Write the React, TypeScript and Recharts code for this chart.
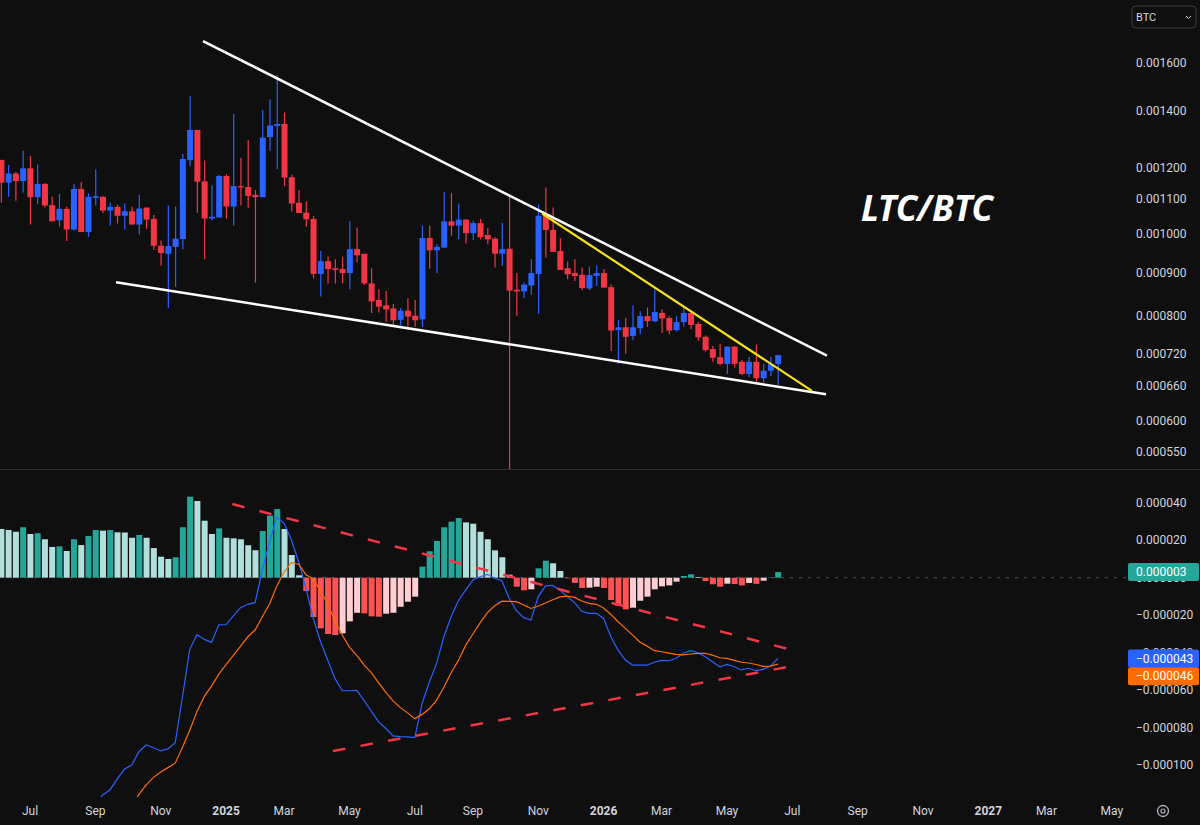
import React from 'react';
import { ComposedChart, Bar, Line, XAxis, YAxis, ReferenceLine, Cell } from 'recharts';

// weekly LTC/BTC candles, first bar = week of 2024-06-03, x = week index
const opens = [
  0.001226, 0.001152, 0.001181, 0.001157, 0.001198, 0.001107, 0.001148, 0.001083, 0.001039, 0.001072,
  0.001013, 0.001132, 0.001006, 0.001105, 0.001108, 0.001067, 0.001078, 0.001052, 0.001065, 0.001027,
  0.001076, 0.001043, 0.000969, 0.000948, 0.000966, 0.000987, 0.001225, 0.001331, 0.001156, 0.001044,
  0.001047, 0.001173, 0.001079, 0.001141, 0.001138, 0.001114, 0.001107, 0.001305, 0.001346, 0.001353,
  0.001169, 0.00109, 0.001061, 0.001043, 0.000897, 0.000929, 0.000911, 0.000909, 0.000899, 0.00096,
  0.000948, 0.000874, 0.000835, 0.000823, 0.000816, 0.000791, 0.000811, 0.0008, 0.000792, 0.00099,
  0.000957, 0.000964, 0.001036, 0.001024, 0.001041, 0.001003, 0.001031, 0.000998, 0.000988, 0.000948,
  0.000961, 0.000859, 0.000855, 0.000869, 0.000897, 0.001052, 0.001012, 0.000955, 0.000911, 0.000899,
  0.000895, 0.000862, 0.000892, 0.000899, 0.000865, 0.000769, 0.000775, 0.000757, 0.000773, 0.000799,
  0.000788, 0.000806, 0.000795, 0.000769, 0.000786, 0.000806, 0.000782, 0.000755, 0.00073, 0.000714,
  0.000701, 0.000735, 0.000705, 0.000682, 0.000705, 0.000674, 0.000688, 0.000701,
];
const highs = [
  0.001226, 0.001209, 0.001186, 0.001257, 0.001239, 0.001211, 0.00115, 0.001108, 0.001117, 0.001078,
  0.001148, 0.001154, 0.001119, 0.001195, 0.00111, 0.001091, 0.001084, 0.001088, 0.001078, 0.001114,
  0.001076, 0.001054, 0.000983, 0.001082, 0.001079, 0.001246, 0.00146, 0.001331, 0.001224, 0.001143,
  0.001176, 0.001179, 0.00139, 0.001233, 0.001295, 0.001129, 0.001406, 0.001448, 0.001546, 0.001396,
  0.001177, 0.001129, 0.001095, 0.001052, 0.000955, 0.000941, 0.000934, 0.000939, 0.001036, 0.001019,
  0.000948, 0.000911, 0.00086, 0.000856, 0.000826, 0.000817, 0.000839, 0.000835, 0.001024, 0.001024,
  0.000973, 0.001122, 0.001119, 0.001088, 0.001041, 0.001038, 0.001043, 0.001017, 0.000992, 0.001031,
  0.001111, 0.000899, 0.000876, 0.000934, 0.001084, 0.001137, 0.001076, 0.000989, 0.000928, 0.000934,
  0.000913, 0.000915, 0.000918, 0.000909, 0.000872, 0.000791, 0.000795, 0.000823, 0.00081, 0.000818,
  0.00086, 0.000814, 0.000799, 0.000799, 0.000822, 0.000806, 0.000787, 0.000758, 0.000736, 0.000741,
  0.000735, 0.000735, 0.000709, 0.000715, 0.000739, 0.000701, 0.000715, 0.000719,
];
const lows = [
  0.00109, 0.001108, 0.001096, 0.001121, 0.001027, 0.001086, 0.001076, 0.001036, 0.001021, 0.000982,
  0.00101, 0.001006, 0.000993, 0.001082, 0.00106, 0.001024, 0.00103, 0.001013, 0.001027, 0.000999,
  0.001015, 0.000958, 0.000918, 0.000817, 0.000866, 0.00096, 0.001206, 0.001061, 0.000934, 0.001039,
  0.001047, 0.001044, 0.001024, 0.001082, 0.001075, 0.000876, 0.001107, 0.001257, 0.001195, 0.001141,
  0.001064, 0.00106, 0.001021, 0.000886, 0.000843, 0.000874, 0.000874, 0.000874, 0.00086, 0.000927,
  0.00087, 0.000806, 0.000807, 0.000787, 0.000776, 0.000778, 0.000776, 0.000776, 0.000776, 0.00091,
  0.000899, 0.000964, 0.000996, 0.000986, 0.000975, 0.000984, 0.000986, 0.000973, 0.000913, 0.000917,
  0.00048, 0.0008, 0.00084, 0.000847, 0.000804, 0.000938, 0.000953, 0.000907, 0.000884, 0.00088,
  0.000858, 0.000858, 0.000868, 0.000864, 0.000726, 0.000701, 0.000721, 0.000748, 0.000761, 0.000776,
  0.000786, 0.000763, 0.000761, 0.000766, 0.000776, 0.000771, 0.000747, 0.000725, 0.000705, 0.000698,
  0.000682, 0.000694, 0.00068, 0.000676, 0.000668, 0.000666, 0.000678, 0.000662,
];
const closes = [
  0.001152, 0.001181, 0.001157, 0.001198, 0.001107, 0.001148, 0.001082, 0.001036, 0.001072, 0.001013,
  0.001132, 0.001006, 0.001108, 0.00111, 0.001067, 0.001078, 0.001052, 0.001065, 0.001027, 0.001073,
  0.001041, 0.000969, 0.00095, 0.000968, 0.000988, 0.001229, 0.001331, 0.001155, 0.001044, 0.001049,
  0.001173, 0.001079, 0.001141, 0.001137, 0.001111, 0.001107, 0.001303, 0.001347, 0.001353, 0.001168,
  0.001088, 0.00106, 0.001042, 0.000897, 0.000929, 0.000909, 0.000907, 0.000899, 0.00096, 0.000944,
  0.000874, 0.000832, 0.00082, 0.000814, 0.00079, 0.000811, 0.000798, 0.00079, 0.00099, 0.000957,
  0.000966, 0.001036, 0.001024, 0.001041, 0.001003, 0.001031, 0.000992, 0.000986, 0.000948, 0.00096,
  0.000857, 0.000855, 0.000871, 0.000899, 0.001052, 0.001012, 0.000953, 0.000907, 0.000896, 0.000892,
  0.000863, 0.000894, 0.000899, 0.000864, 0.000768, 0.000775, 0.000755, 0.000775, 0.000799, 0.000788,
  0.000808, 0.000794, 0.000768, 0.000786, 0.000806, 0.00078, 0.000754, 0.000728, 0.000713, 0.000701,
  0.000735, 0.000701, 0.000682, 0.000705, 0.000674, 0.000688, 0.000701, 0.000718,
];

// MACD pane, values in units of 1e-6
const histogram = [
  26.0, 25.4, 24.5, 26.9, 23.3, 23.7, 20.5, 16.4, 16.7, 14.2,
  20.5, 17.4, 22.2, 25.4, 25.1, 25.4, 24.2, 24.1, 21.3, 22.8,
  21.3, 15.8, 11.2, 10.0, 10.9, 26.9, 43.2, 40.9, 30.4, 23.3,
  26.3, 21.3, 21.0, 20.5, 17.3, 14.6, 24.9, 33.1, 36.6, 26.0,
  12.1, 1.3, -7.1, -21.0, -27.0, -30.0, -30.6, -29.7, -23.3, -18.7,
  -19.0, -20.6, -20.8, -19.2, -18.7, -15.5, -12.8, -10.1, 5.9, 14.1,
  19.6, 26.9, 29.9, 31.8, 29.5, 28.8, 24.5, 20.5, 14.6, 10.9,
  1.6, -4.8, -6.7, -6.2, 5.0, 9.1, 7.7, 3.6, -0.3, -2.8,
  -5.5, -5.3, -4.8, -5.5, -11.9, -15.1, -16.9, -16.0, -12.3, -10.1,
  -6.2, -4.6, -4.1, -2.1, 0.9, 1.8, 0.4, -1.8, -3.5, -4.8,
  -3.2, -3.4, -4.1, -2.8, -3.3, -1.6, 0.2, 3.0,
];
const macdLine = [
  -174, -170.6, -167.5, -161.1, -160.7, -156.3, -155.5, -155.6, -151.3, -149.8,
  -139.5, -138.1, -128.8, -120.6, -115.9, -113.2, -107.4, -102.2, -99.9, -92.8,
  -89.2, -90.7, -92.4, -91.3, -88.0, -63.5, -38.2, -30.4, -32.9, -34.5,
  -25.1, -25.1, -20.4, -16.0, -14.2, -13.3, 4.1, 19.2, 32.2, 29.0,
  20.1, 8.5, -5.5, -21.5, -34.0, -43.9, -53.7, -60.3, -60.3, -60.1,
  -65.5, -71.2, -76.8, -80.4, -84.4, -84.8, -84.9, -85.3, -67.0, -55.8,
  -45.7, -31.5, -20.8, -12.3, -6.6, -1.2, 0.5, 1.8, -0.3, -1.6,
  -11.0, -17.6, -21.3, -22.6, -10.1, -4.4, -4.1, -6.6, -10.1, -13.3,
  -17.9, -19.0, -19.0, -21.7, -31.5, -38.6, -43.9, -46.6, -46.6, -46.6,
  -45.1, -44.1, -44.3, -43.0, -40.3, -38.9, -40.0, -42.1, -44.8, -47.5,
  -46.2, -47.5, -49.2, -48.3, -49.6, -48.9, -47.0, -43.1,
];
const signalLine = [
  -200, -196, -192, -188, -184, -180, -176, -172, -168, -164,
  -160, -155.5, -151, -146, -141, -138.6, -131.6, -126.3, -121.2, -115.6,
  -110.5, -106.5, -103.6, -101.3, -98.9, -90.4, -81.4, -71.3, -63.3, -57.8,
  -51.4, -46.4, -41.4, -36.5, -31.5, -27.9, -20.8, -13.9, -4.4, 3.0,
  8.0, 7.2, 1.6, -0.5, -7.0, -13.9, -23.1, -30.6, -37.0, -41.4,
  -46.5, -50.6, -56.0, -61.2, -65.7, -69.3, -72.1, -75.2, -72.9, -69.9,
  -65.3, -58.4, -50.7, -44.1, -36.1, -30.0, -24.0, -18.7, -14.9, -12.5,
  -12.6, -12.8, -14.6, -16.4, -15.1, -13.5, -11.8, -10.2, -9.8, -10.5,
  -12.4, -13.7, -14.2, -16.2, -19.6, -23.5, -27.0, -30.6, -34.3, -36.5,
  -38.9, -39.5, -40.2, -40.9, -41.2, -40.7, -40.4, -40.3, -41.3, -42.7,
  -43.0, -44.1, -45.1, -45.5, -46.3, -47.3, -47.2, -46.1,
];

// month labels and the week index where each label sits
const monthLabels = ['Jul', 'Sep', 'Nov', '2025', 'Mar', 'May', 'Jul', 'Sep', 'Nov', '2026', 'Mar', 'May', 'Jul', 'Sep', 'Nov', '2027', 'Mar', 'May'];
const monthWeeks = [4, 13, 22, 31, 39, 48, 57, 65, 74, 83, 91, 100, 109, 118, 127, 136, 144, 153];

const priceTicks = [0.00055, 0.0006, 0.00066, 0.00072, 0.0008, 0.0009, 0.001, 0.0011, 0.0012, 0.0014, 0.0016];
const macdTicks = [40, 20, 0, -20, -40, -60, -80, -100];

// drawn trend lines: [week, price] pairs
const upperWedge = [[27.82, 0.001698], [113.77, 0.000717]];
const lowerWedge = [[15.84, 0.000877], [113.64, 0.000645]];
const yellowLine = [[74.52, 0.0010586], [111.71, 0.000651]];
// MACD dashed lines: [week, value 1e-6]
const macdUpper = [[31.86, 39.3], [108.68, -38.3]];
const macdLower = [[45.73, -92.4], [108.68, -47.4]];

const UP = '#2962ff';
const DOWN = '#f23645';
const TEXT = '#d1d4dc';
const BG = '#0f0f0f';
const X_DOMAIN = [-0.1377, 154.96];
const MACD_DOMAIN = [-116.96, 57.44];

const priceData = opens.map((o, i) => ({
  x: i, open: o, high: highs[i], low: lows[i], close: closes[i], range: [lows[i], highs[i]],
}));
const macdData = histogram.map((h, i) => ({ x: i, hist: h, macd: macdLine[i], signal: signalLine[i] }));

const histColor = (i: number) => {
  const v = histogram[i];
  const prev = i > 0 ? histogram[i - 1] : v;
  if (v >= 0) return v > prev ? '#26a69a' : '#b2dfdb';
  return v < prev ? '#ff5252' : '#ffcdd2';
};

const seg = (pts: number[][]) => pts.map(([x, y]) => ({ x, y }));

function Candle(props: any) {
  const { x, y, width, height, payload } = props;
  if (height == null || isNaN(y)) return null;
  const { open, close, high, low } = payload;
  const color = close >= open ? UP : DOWN;
  const lh = Math.log(high);
  const ll = Math.log(low);
  const py = (v: number) => y + (height * (lh - Math.log(v))) / (lh - ll || 1);
  const top = py(Math.max(open, close));
  const bot = py(Math.min(open, close));
  const cx = x + width / 2;
  return (
    <g>
      <line x1={cx} x2={cx} y1={y} y2={y + height} stroke={color} strokeWidth={1.2} />
      <rect x={x} y={top} width={width} height={Math.max(1, bot - top)} fill={color} />
    </g>
  );
}

function PriceTick({ x, y, payload }: any) {
  return (
    <text x={x} y={y} dominantBaseline="central" textAnchor="start" fill={TEXT} fontSize={12} fontFamily="Roboto">
      {payload.value.toFixed(6)}
    </text>
  );
}

const fmtMicro = (v: number) => (v / 1e6).toFixed(6).replace('-', '\u2212');

function MacdTick({ x, y, payload }: any) {
  return (
    <text x={x} y={y} dominantBaseline="central" textAnchor="start" fill={TEXT} fontSize={12} fontFamily="Roboto">
      {fmtMicro(payload.value)}
    </text>
  );
}

function MonthTick({ x, y, payload }: any) {
  const label = monthLabels[monthWeeks.indexOf(payload.value)];
  const isYear = /^\d{4}$/.test(label || '');
  return (
    <text x={x} y={y} dominantBaseline="central" textAnchor="middle" fill={TEXT} fontSize={12}
      fontWeight={isYear ? 700 : 400} fontFamily="Roboto">
      {label}
    </text>
  );
}

function ValueTag({ viewBox, fill, text, shift = 0 }: any) {
  if (!viewBox) return null;
  const right = viewBox.x + viewBox.width;
  const cy = viewBox.y + shift;
  return (
    <g>
      <rect x={right + 2} y={cy - 9} width={71} height={18} rx={2} fill={fill} />
      <text x={right + 10} y={cy} dominantBaseline="central" fill="#ffffff" fontSize={12} fontFamily="Roboto">
        {text}
      </text>
    </g>
  );
}

export default function App() {
  const last = histogram.length - 1;
  return (
    <div style={{ position: 'fixed', left: 0, top: 0, width: 1200, height: 825, background: BG, overflow: 'hidden' }}>
      <div style={{ position: 'absolute', left: 0, top: 0 }}>
        <ComposedChart width={1200} height={469} data={priceData} margin={{ top: 0, right: 0, bottom: 0, left: 0 }}>
          <XAxis type="number" dataKey="x" domain={X_DOMAIN} allowDataOverflow hide />
          <YAxis orientation="right" scale="log" domain={[0.0005256, 0.0019]} allowDataOverflow ticks={priceTicks}
            width={74} axisLine={false} tickLine={false} tickSize={0} tickMargin={10} tick={<PriceTick />} interval={0} />
          <Bar dataKey="range" barSize={6} shape={<Candle />} isAnimationActive={false} />
          <ReferenceLine segment={seg(upperWedge)} stroke="#ffffff" strokeWidth={2.5} ifOverflow="visible" />
          <ReferenceLine segment={seg(lowerWedge)} stroke="#ffffff" strokeWidth={2.5} ifOverflow="visible" />
          <ReferenceLine segment={seg(yellowLine)} stroke="#f7e11b" strokeWidth={2.2} ifOverflow="visible" />
        </ComposedChart>
      </div>
      <div style={{ position: 'absolute', left: 0, top: 469, width: 1200, height: 1, background: '#2e2e2e' }} />
      <div style={{ position: 'absolute', left: 0, top: 470 }}>
        <ComposedChart width={1200} height={355} data={macdData} margin={{ top: 0, right: 0, bottom: 0, left: 0 }}>
          <XAxis type="number" dataKey="x" domain={X_DOMAIN} allowDataOverflow ticks={monthWeeks} interval={0}
            height={28} axisLine={false} tickLine={false} tickSize={0} tickMargin={14} tick={<MonthTick />} />
          <YAxis orientation="right" domain={MACD_DOMAIN} allowDataOverflow ticks={macdTicks} interval={0}
            width={74} axisLine={false} tickLine={false} tickSize={0} tickMargin={10} tick={<MacdTick />} />
          <ReferenceLine y={0} stroke="#787b86" strokeOpacity={0.6} strokeDasharray="3 6" />
          <Bar dataKey="hist" barSize={6} isAnimationActive={false}>
            {macdData.map((d, i) => (
              <Cell key={d.x} fill={histColor(i)} />
            ))}
          </Bar>
          <Line dataKey="macd" type="linear" stroke="#2962ff" strokeWidth={1.2} dot={false} isAnimationActive={false} />
          <Line dataKey="signal" type="linear" stroke="#ff6d00" strokeWidth={1.2} dot={false} isAnimationActive={false} />
          <ReferenceLine segment={seg(macdUpper)} stroke="#f23645" strokeWidth={2.5} strokeDasharray="12.5 15.5" ifOverflow="visible" />
          <ReferenceLine segment={seg(macdLower)} stroke="#f23645" strokeWidth={2.5} strokeDasharray="12.5 15.5" ifOverflow="visible" />
        </ComposedChart>
      </div>
      {/* last-value tags, drawn on a layer above the axis labels */}
      <div style={{ position: 'absolute', left: 0, top: 470 }}>
        <ComposedChart width={1200} height={355} data={macdData} margin={{ top: 0, right: 74, bottom: 28, left: 0 }}>
          <XAxis type="number" dataKey="x" domain={X_DOMAIN} allowDataOverflow hide />
          <YAxis domain={MACD_DOMAIN} allowDataOverflow hide />
          <ReferenceLine y={histogram[last]} stroke="none"
            label={<ValueTag fill="#26a69a" text={fmtMicro(histogram[last])} />} />
          <ReferenceLine y={macdLine[last]} stroke="none"
            label={<ValueTag fill="#2962ff" text={fmtMicro(macdLine[last])} />} />
          <ReferenceLine y={signalLine[last]} stroke="none"
            label={<ValueTag fill="#ff6d00" text={fmtMicro(signalLine[last])} shift={12} />} />
        </ComposedChart>
      </div>
      <svg width={1200} height={825} style={{ position: 'absolute', left: 0, top: 0, pointerEvents: 'none' }}>
        <text x={861} y={221} fill="#ffffff" fontSize={35} fontWeight={700} fontStyle="italic" fontFamily="Noto Sans">
          LTC/BTC
        </text>
        <rect x={1132} y={6} width={64} height={22} rx={4} fill="none" stroke="#3a3d45" />
        <text x={1136} y={17} dominantBaseline="central" fill={TEXT} fontSize={11} fontFamily="Roboto">BTC</text>
        <path d="M1186 16 l2.5 2.5 l2.5 -2.5" fill="none" stroke={TEXT} strokeWidth={1} />
        <circle cx={1163} cy={811} r={5.5} fill="none" stroke="#b2b5be" strokeWidth={1.3} />
        <circle cx={1163} cy={811} r={2} fill="none" stroke="#b2b5be" strokeWidth={1.2} />
      </svg>
    </div>
  );
}
